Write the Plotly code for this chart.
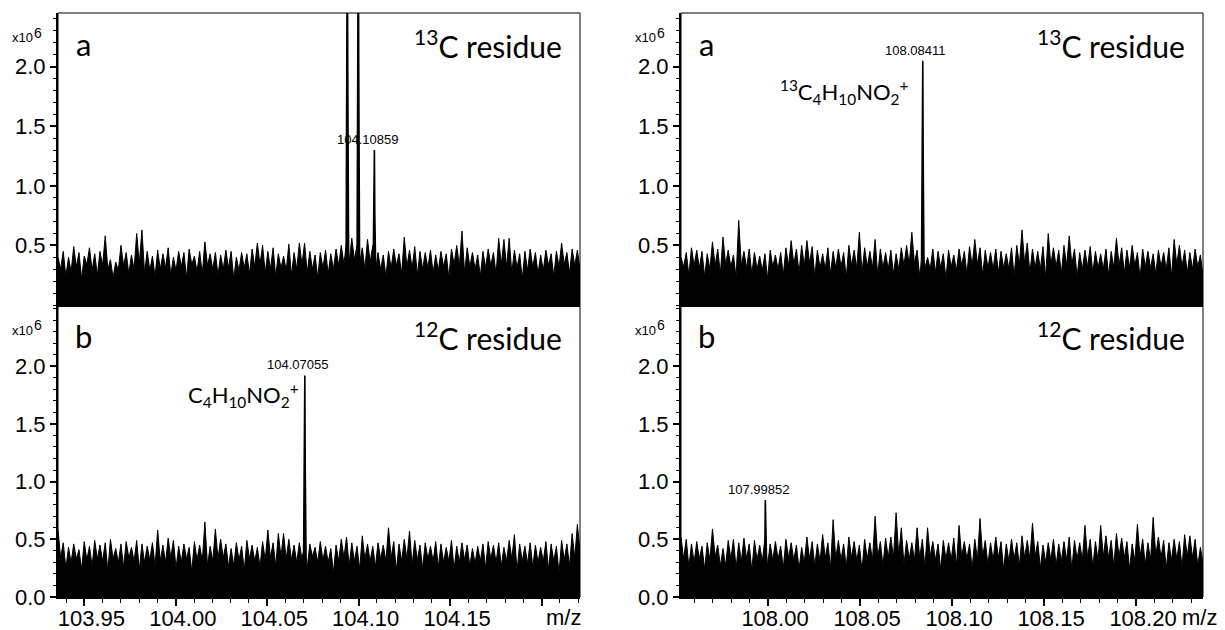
import numpy as np
import plotly.graph_objects as go

# ---------------- data ----------------
mz_range_left = [103.9356, 104.2210]
mz_range_right = [107.9527, 108.2364]
int_range_top = [0, 2.45]
int_range_bottom = [0, 2.53]

tick_mz_left = [103.95, 104.00, 104.05, 104.10, 104.15, 104.20]
tick_text_left = ["103.95", "104.00", "104.05", "104.10", "104.15", ""]
tick_mz_right = [108.00, 108.05, 108.10, 108.15, 108.20]
tick_text_right = ["108.00", "108.05", "108.10", "108.15", "108.20"]
tick_int_top = [0.5, 1.0, 1.5, 2.0]
tick_int_bottom = [0.0, 0.5, 1.0, 1.5, 2.0]

# noise envelopes (x10^6), read left to right as spike / valley pairs
noise_a_left = [
    .40,.30,.45,.24,.40,.28,.49,.32,.44,.22,.41,.34,.48,.29,.43,.25,.45,.33,.58,.30,
    .38,.23,.36,.29,.50,.33,.44,.26,.42,.30,.60,.35,.63,.27,.45,.29,.41,.24,.46,.30,
    .43,.31,.48,.25,.40,.29,.45,.32,.44,.23,.47,.34,.41,.28,.45,.26,.53,.33,.43,.30,
    .44,.25,.42,.30,.46,.31,.45,.22,.40,.29,.44,.31,.43,.26,.47,.32,.52,.34,.50,.27,
    .45,.30,.48,.24,.43,.31,.41,.29,.51,.25,.44,.30,.52,.34,.52,.27,.45,.30,.42,.23,
    .44,.31,.46,.26,.43,.30,.47,.33,.50,.34,.53,.36,.56,.38,.50,.35,.48,.30,.55,.36,
    .50,.27,.44,.30,.42,.24,.45,.31,.47,.33,.43,.26,.57,.32,.46,.31,.49,.25,.45,.30,
    .44,.31,.46,.27,.42,.29,.45,.32,.43,.23,.47,.34,.50,.33,.62,.27,.48,.32,.44,.30,
    .42,.24,.45,.31,.47,.33,.44,.26,.56,.34,.55,.32,.56,.27,.46,.31,.43,.22,.45,.29,
    .47,.32,.44,.26,.42,.29,.46,.33,.43,.24,.45,.32,.52,.34,.44,.27,.47,.33,.46,.30,
]
noise_b_left = [
    .58,.34,.47,.25,.43,.30,.46,.33,.41,.24,.48,.32,.44,.27,.49,.33,.45,.31,.47,.23,
    .50,.33,.42,.30,.46,.26,.48,.34,.43,.31,.49,.24,.46,.30,.44,.32,.47,.27,.58,.31,
    .45,.30,.51,.34,.49,.25,.44,.30,.46,.33,.43,.22,.48,.32,.45,.31,.65,.27,.44,.31,
    .59,.33,.50,.34,.46,.26,.42,.27,.47,.32,.44,.23,.49,.33,.45,.31,.43,.26,.48,.32,
    .58,.34,.47,.27,.55,.35,.55,.33,.50,.32,.45,.30,.47,.33,.44,.25,.46,.35,.43,.30,
    .48,.32,.44,.30,.42,.21,.45,.31,.50,.34,.52,.27,.47,.31,.44,.24,.53,.33,.46,.31,
    .44,.26,.47,.33,.45,.31,.60,.34,.48,.23,.46,.31,.50,.33,.57,.28,.49,.32,.45,.25,
    .47,.33,.44,.31,.48,.26,.46,.30,.43,.31,.49,.24,.44,.30,.47,.32,.45,.27,.42,.29,
    .44,.31,.46,.25,.48,.33,.45,.30,.47,.27,.43,.31,.49,.33,.54,.23,.46,.31,.44,.29,
    .47,.26,.45,.30,.43,.31,.48,.24,.46,.31,.44,.21,.49,.32,.46,.27,.55,.34,.63,.40,
]
noise_a_right = [
    .40,.32,.44,.25,.48,.33,.46,.31,.45,.24,.43,.30,.53,.33,.47,.26,.57,.34,.46,.32,
    .42,.23,.71,.33,.45,.31,.47,.26,.44,.30,.41,.29,.43,.22,.46,.32,.42,.30,.44,.25,
    .48,.33,.54,.34,.47,.27,.50,.33,.54,.35,.49,.24,.46,.31,.43,.30,.48,.26,.45,.31,
    .47,.32,.44,.23,.50,.33,.46,.31,.61,.27,.48,.32,.45,.31,.55,.25,.47,.31,.44,.30,
    .46,.26,.43,.30,.48,.33,.50,.34,.61,.35,.46,.24,.44,.31,.40,.30,.47,.27,.45,.31,
    .43,.22,.46,.32,.42,.29,.47,.33,.45,.26,.49,.33,.55,.34,.48,.25,.46,.31,.44,.30,
    .47,.27,.45,.31,.43,.30,.48,.24,.50,.34,.63,.35,.52,.27,.47,.31,.45,.30,.49,.23,
    .60,.34,.48,.32,.46,.26,.50,.33,.58,.34,.47,.24,.44,.30,.46,.32,.49,.27,.45,.31,
    .43,.30,.47,.25,.45,.31,.56,.33,.48,.27,.46,.31,.50,.33,.44,.23,.47,.32,.45,.31,
    .43,.26,.46,.32,.44,.30,.48,.24,.55,.34,.50,.32,.46,.27,.44,.30,.47,.32,.42,.25,
]
noise_b_right = [
    .52,.33,.50,.26,.46,.30,.48,.33,.44,.24,.47,.32,.59,.35,.45,.27,.42,.27,.49,.33,
    .50,.25,.47,.31,.51,.33,.46,.23,.49,.32,.45,.31,.50,.27,.46,.32,.48,.33,.44,.25,
    .50,.34,.47,.32,.45,.24,.43,.30,.52,.33,.48,.27,.46,.31,.54,.34,.47,.25,.67,.33,
    .49,.32,.46,.26,.52,.34,.48,.32,.45,.23,.50,.33,.47,.32,.70,.35,.48,.27,.51,.34,
    .52,.34,.73,.36,.60,.28,.49,.33,.47,.32,.60,.34,.50,.26,.60,.35,.48,.32,.46,.24,
    .49,.33,.47,.32,.51,.27,.62,.35,.48,.33,.46,.25,.50,.33,.68,.35,.49,.28,.47,.32,
    .52,.34,.48,.24,.46,.31,.50,.33,.47,.27,.53,.34,.49,.33,.64,.35,.48,.25,.45,.30,
    .47,.32,.50,.27,.46,.31,.48,.32,.52,.24,.49,.33,.47,.32,.62,.34,.50,.26,.48,.32,
    .62,.35,.53,.34,.49,.27,.55,.35,.51,.34,.48,.24,.46,.31,.63,.35,.50,.28,.47,.32,
    .69,.36,.52,.34,.49,.25,.47,.32,.50,.33,.48,.26,.54,.35,.53,.34,.50,.27,.43,.30,
]

# peaks (m/z, intensity x10^6)
peaks_a_left_mz = [104.0938, 104.0998, 104.10859]
peaks_a_left_int = [3.40, 3.40, 1.30]
peaks_b_left_mz = [104.07055]
peaks_b_left_int = [1.92]
peaks_a_right_mz = [108.08411]
peaks_a_right_int = [2.05]
peaks_b_right_mz = [107.99852]
peaks_b_right_int = [0.84]

# labelled peaks
label_a_left = [(104.10859, 1.30)]
label_b_left = [(104.07055, 1.92)]
label_a_right = [(108.08411, 2.05)]
label_b_right = [(107.99852, 0.84)]

# ---------------- figure ----------------
# the page body has an 8px margin, so the figure is drawn 8px smaller and
# every screen position below is given in window pixels and shifted by 8
OFF = 8
W, H = 1225 - OFF, 630 - OFF
def px(x): return (x - OFF) / W
def py(y): return 1 - (y - OFF) / H

dom_left = [px(58), px(580)]
dom_right = [px(681), px(1203)]
dom_top = [py(305), py(13)]
dom_bottom = [py(597), py(305)]

panels = [
    dict(n="", xdom=dom_left, ydom=dom_top, xr=mz_range_left, yr=int_range_top, noise=noise_a_left,
         pmz=peaks_a_left_mz, pint=peaks_a_left_int, labels=label_a_left, top=True,
         tv=tick_mz_left, tt=tick_text_left, yt=tick_int_top, letter="a", iso="13",
         x0=58, x1=580, ytop=13),
    dict(n="2", xdom=dom_left, ydom=dom_bottom, xr=mz_range_left, yr=int_range_bottom, noise=noise_b_left,
         pmz=peaks_b_left_mz, pint=peaks_b_left_int, labels=label_b_left, top=False,
         tv=tick_mz_left, tt=tick_text_left, yt=tick_int_bottom, letter="b", iso="12",
         x0=58, x1=580, ytop=305, mz_x=563),
    dict(n="3", xdom=dom_right, ydom=dom_top, xr=mz_range_right, yr=int_range_top, noise=noise_a_right,
         pmz=peaks_a_right_mz, pint=peaks_a_right_int, labels=label_a_right, top=True,
         tv=tick_mz_right, tt=tick_text_right, yt=tick_int_top, letter="a", iso="13",
         x0=681, x1=1203, ytop=13),
    dict(n="4", xdom=dom_right, ydom=dom_bottom, xr=mz_range_right, yr=int_range_bottom, noise=noise_b_right,
         pmz=peaks_b_right_mz, pint=peaks_b_right_int, labels=label_b_right, top=False,
         tv=tick_mz_right, tt=tick_text_right, yt=tick_int_bottom, letter="b", iso="12",
         x0=681, x1=1203, ytop=305, mz_x=1199),
]

fig = go.Figure()
layout = dict(width=W, height=H, margin=dict(l=0, r=0, t=0, b=0, autoexpand=False),
              paper_bgcolor="white", plot_bgcolor="white", showlegend=False)
annotations = []
shapes = []
tickfont = dict(family="Liberation Sans, Arial", size=22, color="black")
smallfont = dict(family="Liberation Sans, Arial", size=13, color="black")

for p in panels:
    n = p["n"]
    xa, ya = "x" + n, "y" + n
    # noise band
    nx = np.linspace(p["xr"][0], p["xr"][1], len(p["noise"]))
    fig.add_trace(go.Scatter(x=nx, y=p["noise"], xaxis=xa, yaxis=ya, mode="lines",
                             line=dict(color="black", width=1), fill="tozeroy",
                             fillcolor="black", hoverinfo="skip"))
    # peaks
    w = 0.0007
    xs, ys = [], []
    for mz, h in zip(p["pmz"], p["pint"]):
        xs += [mz - w, mz - w * 0.3, mz, mz + w * 0.3, mz + w, None]
        ys += [0.30, h * 0.6, h, h * 0.6, 0.30, None]
    fig.add_trace(go.Scatter(x=xs, y=ys, xaxis=xa, yaxis=ya, mode="lines",
                             line=dict(color="black", width=1.6), fill="toself",
                             fillcolor="black", hoverinfo="skip"))
    # axes
    xkey = "xaxis" + n
    ykey = "yaxis" + n
    xdef = dict(domain=p["xdom"], range=p["xr"], anchor=ya, showgrid=False, zeroline=False,
                showline=True, linecolor="black", fixedrange=True, automargin=False)
    if p["top"]:
        xdef.update(showticklabels=False, ticks="", linewidth=1.5)
    else:
        xdef.update(tickmode="array", tickvals=p["tv"], ticktext=p["tt"], ticks="outside",
                    ticklen=7, tickwidth=1.5, tickcolor="black", linewidth=2,
                    tickfont=tickfont, ticklabelshift=7, ticklabelstandoff=-6,
                    minor=dict(dtick=0.01, tick0=p["tv"][0], ticks="outside", ticklen=4,
                               tickwidth=1.2, tickcolor="black"))
    ydef = dict(domain=p["ydom"], range=p["yr"], anchor=xa, showgrid=False, zeroline=False,
                showline=True, linecolor="black", linewidth=2, tickmode="array",
                tickvals=p["yt"], ticktext=["%.1f" % v for v in p["yt"]], ticks="outside",
                ticklen=6, tickwidth=1.5, tickcolor="black", tickfont=tickfont, fixedrange=True,
                automargin=False,
                minor=dict(dtick=0.1, tick0=0, ticks="outside", ticklen=3, tickwidth=1.2,
                           tickcolor="black"))
    layout[xkey] = xdef
    layout[ykey] = ydef
    # frame
    shapes.append(dict(type="rect", xref=xa + " domain", yref=ya + " domain", x0=0, x1=1, y0=0, y1=1,
                       line=dict(color="black", width=1)))
    # panel letter
    annotations.append(dict(x=px(p["x0"] + 25), y=py(p["ytop"] + 31), xref="paper", yref="paper",
                            text=p["letter"], showarrow=False, xanchor="center", yanchor="middle",
                            font=dict(family="Lato", size=31, color="black")))
    # residue text
    annotations.append(dict(x=px(p["x1"] - 16), y=py(p["ytop"] + 31), xref="paper", yref="paper",
                            text="<sup>%s</sup>C residue" % p["iso"], showarrow=False,
                            xanchor="right", yanchor="middle",
                            font=dict(family="Lato", size=30, color="black")))
    # x10^6 (exponent drawn at full size, raised)
    annotations.append(dict(x=px(p["x0"] - 36), y=py(p["ytop"] + 25), xref="paper", yref="paper",
                            text="x10", showarrow=False, xanchor="center",
                            yanchor="middle", font=smallfont))
    annotations.append(dict(x=px(p["x0"] - 20), y=py(p["ytop"] + 20), xref="paper", yref="paper",
                            text="6", showarrow=False, xanchor="center",
                            yanchor="middle", font=dict(family="Liberation Sans, Arial", size=14,
                                                        color="black")))
    # peak labels
    for mz, h in p["labels"]:
        annotations.append(dict(x=mz, y=h, xref=xa, yref=ya, text="%.5f" % mz, showarrow=False,
                                xanchor="center", yanchor="bottom", xshift=-7, yshift=1,
                                font=smallfont))
    # m/z label
    if not p["top"]:
        annotations.append(dict(x=px(p["mz_x"]), y=py(617), xref="paper", yref="paper",
                                text="m/z", showarrow=False, xanchor="center", yanchor="middle",
                                font=tickfont))

# formula annotations
annotations.append(dict(x=peaks_b_left_mz[0], y=1.75, xref="x2", yref="y2",
                        text="C<sub>4</sub>H<sub>10</sub>NO<sub>2</sub><sup>+</sup>",
                        showarrow=False, xanchor="right", yanchor="middle", xshift=-4,
                        font=dict(family="Lato", size=22, color="black")))
annotations.append(dict(x=peaks_a_right_mz[0], y=1.79, xref="x3", yref="y3",
                        text="<sup>13</sup>C<sub>4</sub>H<sub>10</sub>NO<sub>2</sub><sup>+</sup>",
                        showarrow=False, xanchor="right", yanchor="middle", xshift=-12,
                        font=dict(family="Lato", size=22, color="black")))

layout["annotations"] = annotations
layout["shapes"] = shapes
fig.update_layout(**layout)
fig.write_html("out.html")
